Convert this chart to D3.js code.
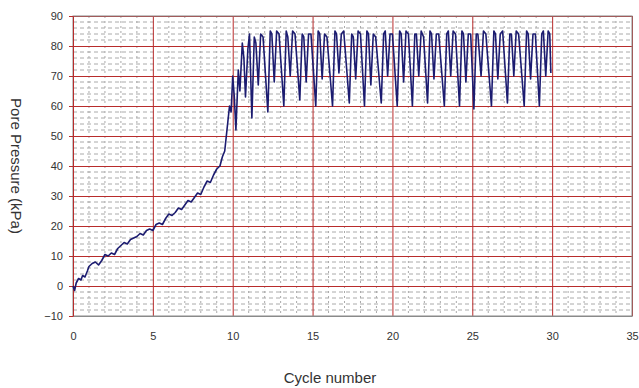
<!DOCTYPE html>
<html>
<head>
<meta charset="utf-8">
<script src="https://cdn.jsdelivr.net/npm/d3@7"></script>
<style>
  body { margin: 0; background: #fff; }
  svg { font-family: "Liberation Sans", Arial, sans-serif; }
</style>
</head>
<body>
<div id="chart"></div>
<script>
// cycle number and pore pressure (kPa)
const cycles = [
  0, 0.1, 0.2, 0.35, 0.5, 0.6, 0.75, 0.9, 1.0, 1.2, 1.4, 1.6, 1.8, 2.0, 2.2, 2.4, 2.6, 2.8,
  3.0, 3.2, 3.4, 3.6, 3.8, 4.0, 4.2, 4.4, 4.6, 4.8, 5.0, 5.2, 5.4, 5.6, 5.8, 6.0, 6.2, 6.4,
  6.6, 6.8, 7.0, 7.2, 7.4, 7.6, 7.8, 8.0, 8.2, 8.4, 8.6, 8.8, 9.0, 9.2, 9.35, 9.5, 9.6, 9.7,
  9.8, 9.9, 10.0, 10.1, 10.2, 10.35, 10.45, 10.6, 10.7, 10.8, 10.95, 11.05,
  11.2, 11.35, 11.45, 11.6, 11.75, 11.9,
  12.2, 12.35, 12.45, 12.6, 12.75, 12.9,
  13.2, 13.35, 13.45, 13.6, 13.75, 13.9,
  14.2, 14.35, 14.45, 14.6, 14.75, 14.9,
  15.2, 15.35, 15.45, 15.6, 15.75, 15.9,
  16.25, 16.4, 16.5, 16.65, 16.8, 16.95,
  17.3, 17.45, 17.55, 17.7, 17.85, 18.0,
  18.25, 18.4, 18.5, 18.65, 18.8, 18.95,
  19.3, 19.45, 19.55, 19.7, 19.85, 20.0,
  20.3, 20.45, 20.55, 20.7, 20.85, 21.0,
  21.25, 21.4, 21.5, 21.65, 21.8, 21.95,
  22.2, 22.35, 22.45, 22.6, 22.75, 22.9,
  23.25, 23.4, 23.5, 23.65, 23.8, 23.95,
  24.2, 24.35, 24.45, 24.6, 24.75, 24.9,
  25.1, 25.25, 25.35, 25.55, 25.7, 25.85,
  26.2, 26.35, 26.45, 26.6, 26.75, 26.9,
  27.2, 27.35, 27.45, 27.6, 27.75, 27.9,
  28.25, 28.4, 28.5, 28.65, 28.8, 28.95,
  29.2, 29.35, 29.45, 29.6, 29.75, 29.85, 29.92
];
const pressure = [
  0, -1.5, 1, 2.5, 2, 3.5, 3, 5, 6.5, 7.5, 8, 7, 8.5, 10.5, 10, 11, 10.5, 12.5,
  13.5, 14.5, 14, 15.5, 16, 16.5, 17.5, 17, 18.5, 19, 18.5, 20.5, 21, 20.5, 22.5, 24, 23.5, 24.5,
  26, 25.5, 27, 28.5, 28, 29.5, 31, 30.5, 33, 35, 34.5, 37, 39, 40, 43, 45, 50, 55,
  60, 58, 70, 63, 52, 72, 65, 81, 76, 63, 79, 84,
  56, 83, 81, 67, 84, 83,
  58, 85, 84, 68, 85, 84,
  60, 85, 83, 70, 85, 84,
  62, 84, 83, 68, 84, 84,
  60, 85, 84, 69, 84, 83,
  60, 85, 84, 71, 84, 85,
  61, 84, 83, 69, 85, 84,
  60, 85, 84, 67, 84, 83,
  61, 84, 85, 70, 84, 84,
  60, 85, 84, 68, 85, 84,
  60, 84, 84, 70, 85, 83,
  61, 85, 84, 69, 84, 84,
  60, 84, 85, 70, 85, 84,
  60, 85, 84, 68, 84, 84,
  59, 84, 84, 70, 85, 84,
  60, 85, 84, 69, 84, 85,
  61, 84, 84, 70, 85, 84,
  60, 85, 84, 69, 84, 84,
  60, 84, 85, 70, 85, 84, 71
];
const xTicks = [0, 5, 10, 15, 20, 25, 30, 35];
const yTicks = [-10, 0, 10, 20, 30, 40, 50, 60, 70, 80, 90];

const W = 639, H = 388;
const plot = { left: 73, right: 632, top: 16, bottom: 316 };

const svg = d3.select("#chart")
  .append("svg")
  .attr("width", W)
  .attr("height", H);

const x = d3.scaleLinear().domain([0, 35]).range([plot.left, plot.right]);
const y = d3.scaleLinear().domain([-10, 90]).range([plot.bottom, plot.top]);

// minor dashed grid
svg.append("g")
  .selectAll("line")
  .data(d3.range(-10, 91, 2).filter(v => v % 10 !== 0))
  .enter().append("line")
  .attr("x1", plot.left).attr("x2", plot.right)
  .attr("y1", d => y(d)).attr("y2", d => y(d))
  .attr("stroke", "#aaaaaa")
  .attr("stroke-dasharray", "4,3");

svg.append("g")
  .selectAll("line")
  .data(d3.range(0, 36, 1).filter(v => v % 5 !== 0))
  .enter().append("line")
  .attr("x1", d => x(d)).attr("x2", d => x(d))
  .attr("y1", plot.top).attr("y2", plot.bottom)
  .attr("stroke", "#aaaaaa")
  .attr("stroke-dasharray", "2,3");

// major red grid
svg.append("g")
  .attr("transform", "translate(0," + plot.bottom + ")")
  .call(d3.axisBottom(x).tickValues(xTicks).tickSize(-(plot.bottom - plot.top)).tickFormat(""))
  .call(g => g.select(".domain").remove())
  .selectAll("line").attr("stroke", "#b82c2c");

svg.append("g")
  .attr("transform", "translate(" + plot.left + ",0)")
  .call(d3.axisLeft(y).tickValues(yTicks).tickSize(-(plot.right - plot.left)).tickFormat(""))
  .call(g => g.select(".domain").remove())
  .selectAll("line").attr("stroke", "#b82c2c");

// frame
svg.append("rect")
  .attr("x", plot.left).attr("y", plot.top)
  .attr("width", plot.right - plot.left).attr("height", plot.bottom - plot.top)
  .attr("fill", "none")
  .attr("stroke", "#8a8a8a");

// left axis with red ticks
const yAxis = svg.append("g")
  .attr("transform", "translate(" + plot.left + ",0)")
  .call(d3.axisLeft(y).tickValues(yTicks).tickSize(4).tickPadding(6));
yAxis.select(".domain").attr("stroke", "#b82c2c");
yAxis.selectAll("line").attr("stroke", "#b82c2c");
yAxis.selectAll("text").attr("fill", "#333").style("font-size", "11px");

const xAxis = svg.append("g")
  .attr("transform", "translate(0," + plot.bottom + ")")
  .call(d3.axisBottom(x).tickValues(xTicks).tickSize(0).tickPadding(16));
xAxis.select(".domain").attr("stroke", "#8a8a8a");
xAxis.selectAll("text").attr("fill", "#333").style("font-size", "11px");

// data line
const line = d3.line()
  .x((d, i) => x(cycles[i]))
  .y(d => y(d));

svg.append("path")
  .datum(pressure)
  .attr("fill", "none")
  .attr("stroke", "#1c1c70")
  .attr("stroke-width", 1.6)
  .attr("stroke-linejoin", "round")
  .attr("d", line);

// axis titles
svg.append("text")
  .attr("transform", "translate(11,166) rotate(90)")
  .attr("text-anchor", "middle")
  .attr("fill", "#333")
  .style("font-size", "15px")
  .text("Pore Pressure (kPa)");

svg.append("text")
  .attr("x", 330)
  .attr("y", 383)
  .attr("text-anchor", "middle")
  .attr("fill", "#333")
  .style("font-size", "15px")
  .text("Cycle number");
</script>
</body>
</html>
